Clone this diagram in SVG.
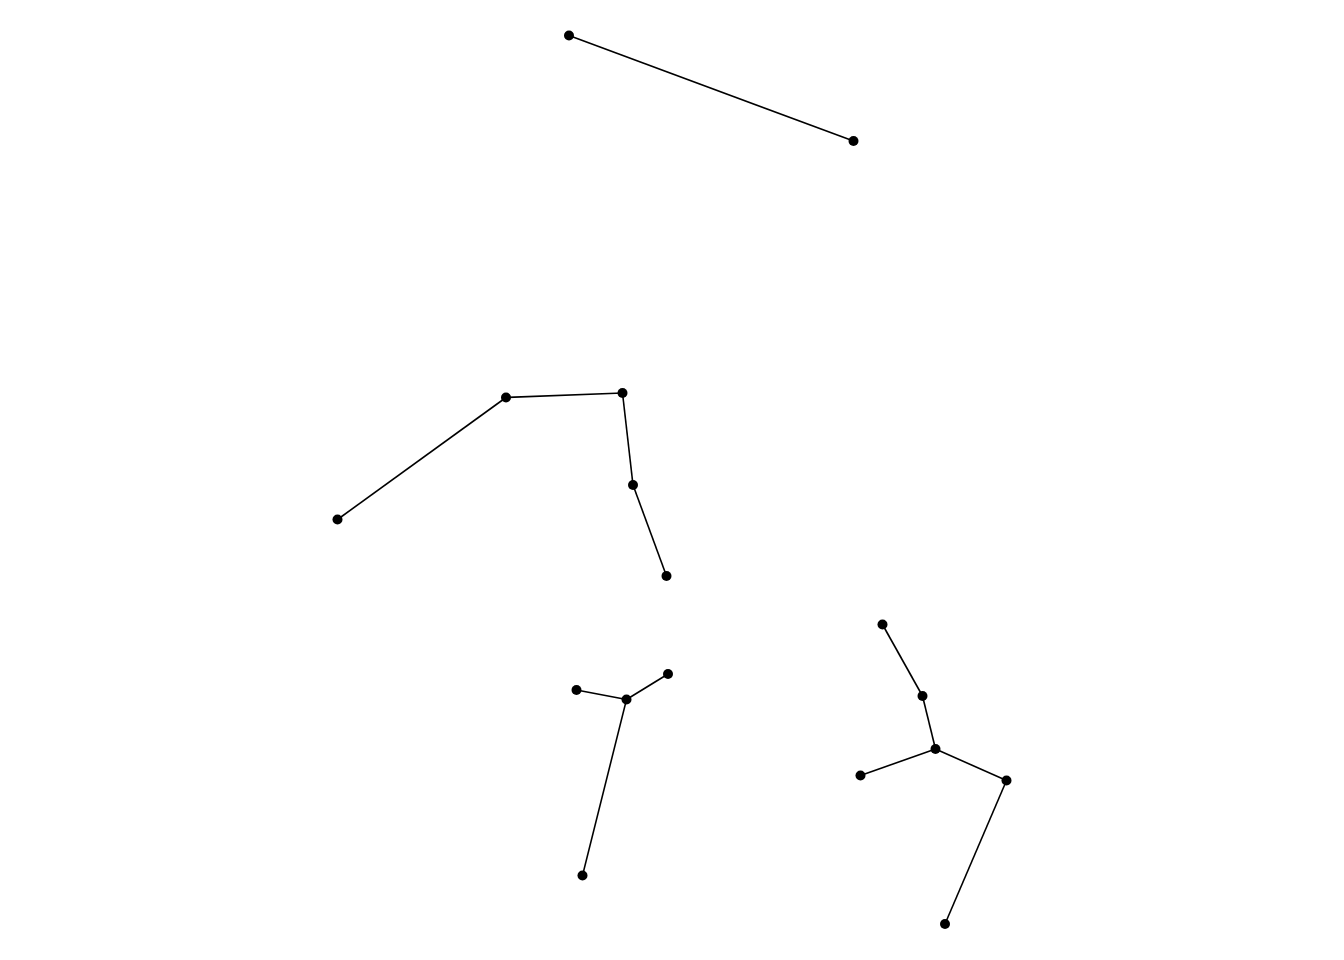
<svg xmlns="http://www.w3.org/2000/svg" width="1344" height="960" viewBox="0 0 1344 960">
<style>
.e{stroke:#000;stroke-width:1.6;fill:none}
.n{fill:#000}
</style>
<rect width="1344" height="960" fill="#fff"/>
<g id="edges">
<line class="e" x1="569" y1="35.5" x2="853.5" y2="141"/>
<line class="e" x1="337.5" y1="519.5" x2="506" y2="397.5"/>
<line class="e" x1="506" y1="397.5" x2="622.5" y2="393"/>
<line class="e" x1="622.5" y1="393" x2="633" y2="485"/>
<line class="e" x1="633" y1="485" x2="666.5" y2="576"/>
<line class="e" x1="576.5" y1="690" x2="626.5" y2="699.5"/>
<line class="e" x1="626.5" y1="699.5" x2="668" y2="674"/>
<line class="e" x1="626.5" y1="699.5" x2="582.5" y2="875.5"/>
<line class="e" x1="882.5" y1="624.5" x2="922.5" y2="696"/>
<line class="e" x1="922.5" y1="696" x2="935.5" y2="749"/>
<line class="e" x1="935.5" y1="749" x2="860.5" y2="775.5"/>
<line class="e" x1="935.5" y1="749" x2="1006.5" y2="780.5"/>
<line class="e" x1="1006.5" y1="780.5" x2="945" y2="924"/>
</g>
<g id="n1"><circle class="n" cx="569" cy="35.5" r="5"/></g>
<g id="n2"><circle class="n" cx="853.5" cy="141" r="5"/></g>
<g id="n3"><circle class="n" cx="337.5" cy="519.5" r="5"/></g>
<g id="n4"><circle class="n" cx="506" cy="397.5" r="5"/></g>
<g id="n5"><circle class="n" cx="622.5" cy="393" r="5"/></g>
<g id="n6"><circle class="n" cx="633" cy="485" r="5"/></g>
<g id="n7"><circle class="n" cx="666.5" cy="576" r="5"/></g>
<g id="n8"><circle class="n" cx="576.5" cy="690" r="5"/></g>
<g id="n9"><circle class="n" cx="626.5" cy="699.5" r="5"/></g>
<g id="n10"><circle class="n" cx="668" cy="674" r="5"/></g>
<g id="n11"><circle class="n" cx="582.5" cy="875.5" r="5"/></g>
<g id="n12"><circle class="n" cx="882.5" cy="624.5" r="5"/></g>
<g id="n13"><circle class="n" cx="922.5" cy="696" r="5"/></g>
<g id="n14"><circle class="n" cx="935.5" cy="749" r="5"/></g>
<g id="n15"><circle class="n" cx="860.5" cy="775.5" r="5"/></g>
<g id="n16"><circle class="n" cx="1006.5" cy="780.5" r="5"/></g>
<g id="n17"><circle class="n" cx="945" cy="924" r="5"/></g>
</svg>
